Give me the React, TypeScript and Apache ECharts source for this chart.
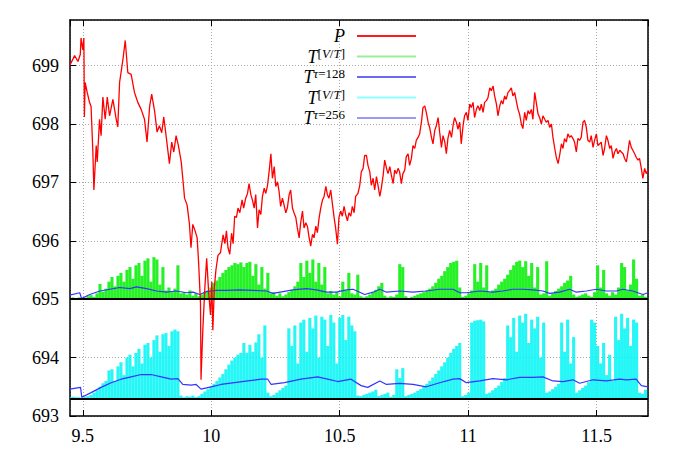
import React, { useEffect, useRef } from "react";
import * as echarts from "echarts";

// ---------- axis ranges ----------
const X_MIN = 9.45;
const X_MAX = 11.7;
const Y_MIN = 693;
const Y_MAX = 699.78;
const X_TICK_STEP = 0.5; // ticks 9.5, 10, 10.5, 11, 11.5 (chosen by the axis)
const Y_TICK_STEP = 1; // ticks 693 ... 699
const UPPER_BASE = 695; // baseline of the upper T^[V/T] impulses
const LOWER_BASE = 693.3; // baseline of the lower T^[V/T] impulses

// ---------- series names ----------
const NAME_P = "P";
const NAME_VT_UP = "T[V/T] a";
const NAME_TAU128 = "T tau=128";
const NAME_VT_LOW = "T[V/T] b";
const NAME_TAU256 = "T tau=256";

// ---------- P (price) ----------
const pPoints: [number, number][] = [
  [9.449,699.00],[9.468,699.17],[9.481,699.07],[9.490,699.19],[9.493,699.47],[9.500,699.27],[9.504,699.47],[9.506,698.12],[9.509,698.71],[9.517,698.54],
  [9.526,698.37],[9.532,698.30],[9.539,697.52],[9.543,696.87],[9.552,697.63],[9.556,697.35],[9.565,698.08],[9.571,697.80],[9.578,698.46],[9.587,698.08],
  [9.595,698.46],[9.604,698.14],[9.617,698.42],[9.630,698.08],[9.636,697.95],[9.643,698.71],[9.656,699.10],[9.665,699.43],[9.675,698.88],[9.688,698.85],
  [9.701,698.54],[9.714,698.37],[9.727,698.25],[9.740,698.08],[9.750,697.69],[9.760,698.30],[9.768,698.51],[9.779,698.23],[9.789,697.86],[9.798,697.97],
  [9.807,697.85],[9.815,698.12],[9.824,697.80],[9.837,697.32],[9.846,697.69],[9.854,697.52],[9.863,697.80],[9.872,697.63],[9.883,697.35],[9.889,697.07],
  [9.896,696.73],[9.906,696.61],[9.915,696.28],[9.921,695.88],[9.928,696.28],[9.937,696.17],[9.945,696.05],[9.951,695.60],[9.958,694.92],[9.960,693.62],
  [9.967,694.47],[9.975,695.20],[9.982,695.70],[9.990,695.10],[9.997,694.73],[10.002,695.30],[10.006,694.47],[10.012,695.20],[10.018,695.50],[10.026,695.75],
  [10.036,695.80],[10.046,696.10],[10.053,695.95],[10.059,696.17],[10.065,695.88],[10.072,695.77],[10.079,696.13],[10.085,695.95],[10.091,696.42],[10.098,696.40],
  [10.104,696.56],[10.111,696.48],[10.120,696.70],[10.126,696.56],[10.134,696.73],[10.141,696.81],[10.147,696.98],[10.154,696.79],[10.160,696.70],[10.167,696.56],
  [10.173,696.79],[10.180,696.22],[10.186,696.53],[10.193,696.45],[10.199,696.76],[10.206,696.90],[10.212,696.81],[10.219,696.95],[10.225,697.18],[10.232,697.49],
  [10.238,697.07],[10.245,697.27],[10.251,696.93],[10.258,697.01],[10.264,696.84],[10.270,696.59],[10.277,696.73],[10.283,696.62],[10.290,696.48],[10.296,696.56],
  [10.303,696.79],[10.309,696.87],[10.316,696.56],[10.322,696.48],[10.329,696.40],[10.335,696.22],[10.342,696.05],[10.348,696.31],[10.355,696.51],[10.361,696.22],
  [10.368,696.31],[10.374,696.25],[10.381,696.05],[10.387,695.91],[10.394,696.11],[10.400,696.05],[10.407,696.25],[10.413,696.14],[10.420,696.40],[10.426,696.56],
  [10.433,696.70],[10.439,696.76],[10.446,696.93],[10.452,696.79],[10.458,696.73],[10.465,696.87],[10.471,696.65],[10.478,696.40],[10.484,696.22],[10.491,695.94],
  [10.497,696.40],[10.504,696.51],[10.510,696.42],[10.517,696.59],[10.523,696.45],[10.530,696.34],[10.536,696.48],[10.543,696.42],[10.549,696.59],[10.556,696.48],
  [10.562,696.76],[10.571,696.81],[10.578,696.95],[10.584,697.18],[10.591,697.24],[10.597,697.46],[10.604,697.46],[10.610,697.29],[10.617,697.18],[10.623,696.95],
  [10.630,697.07],[10.636,696.87],[10.643,697.10],[10.649,696.95],[10.656,696.76],[10.662,696.90],[10.669,697.12],[10.675,697.38],[10.682,697.24],[10.688,697.15],
  [10.695,697.27],[10.701,697.12],[10.708,696.98],[10.714,697.21],[10.721,697.15],[10.727,697.24],[10.733,697.18],[10.740,696.98],[10.746,697.15],[10.753,697.21],
  [10.759,697.44],[10.766,697.49],[10.772,697.29],[10.779,697.41],[10.785,697.63],[10.792,697.58],[10.798,697.72],[10.805,697.77],[10.811,697.83],[10.818,698.03],
  [10.824,698.28],[10.831,698.31],[10.837,698.20],[10.844,698.03],[10.850,697.94],[10.857,697.77],[10.863,697.66],[10.870,697.89],[10.876,697.97],[10.883,698.11],
  [10.889,697.86],[10.896,697.60],[10.902,697.80],[10.909,697.69],[10.915,697.49],[10.921,697.75],[10.928,697.89],[10.935,697.77],[10.941,697.97],[10.947,698.11],
  [10.954,698.03],[10.960,697.91],[10.967,698.03],[10.973,697.66],[10.980,697.97],[10.986,698.14],[10.993,698.20],[10.999,698.06],[11.006,698.34],[11.012,698.28],
  [11.019,698.37],[11.025,698.11],[11.032,698.25],[11.038,698.31],[11.045,698.23],[11.051,698.34],[11.058,698.20],[11.064,698.37],[11.071,698.40],[11.077,698.45],
  [11.084,698.62],[11.090,698.57],[11.097,698.65],[11.103,698.48],[11.110,698.34],[11.116,698.14],[11.123,698.31],[11.129,698.40],[11.135,698.34],[11.142,698.48],
  [11.148,698.42],[11.155,698.54],[11.161,698.57],[11.168,698.62],[11.174,698.48],[11.181,698.54],[11.187,698.40],[11.194,698.25],[11.200,698.17],[11.207,698.00],
  [11.213,697.92],[11.220,698.20],[11.226,698.06],[11.233,698.23],[11.239,698.17],[11.246,698.25],[11.252,698.08],[11.259,698.54],[11.265,698.37],[11.272,698.17],
  [11.278,698.11],[11.285,698.00],[11.291,698.14],[11.298,698.08],[11.304,698.03],[11.311,698.06],[11.317,697.94],[11.324,698.00],[11.330,697.77],[11.337,697.58],
  [11.343,697.43],[11.350,697.32],[11.356,697.46],[11.363,697.66],[11.369,697.58],[11.375,697.75],[11.382,697.69],[11.388,697.83],[11.395,697.77],[11.401,697.80],
  [11.408,697.75],[11.414,697.69],[11.421,697.52],[11.427,697.75],[11.434,697.72],[11.440,697.77],[11.447,698.03],[11.453,698.06],[11.460,697.94],[11.466,697.72],
  [11.473,697.69],[11.479,697.80],[11.486,697.60],[11.492,697.72],[11.499,697.83],[11.505,697.63],[11.512,697.66],[11.518,697.69],[11.525,697.46],[11.531,697.58],
  [11.538,697.80],[11.544,697.72],[11.551,697.58],[11.557,697.63],[11.564,697.41],[11.570,697.52],[11.577,697.58],[11.583,697.49],[11.590,697.55],[11.596,697.52],
  [11.603,697.49],[11.609,697.41],[11.616,697.35],[11.622,697.52],[11.628,697.72],[11.635,697.60],[11.641,697.55],[11.648,697.49],[11.654,697.43],[11.661,697.38],
  [11.667,697.41],[11.674,697.24],[11.680,697.07],[11.687,697.24],[11.693,697.15],[11.700,697.21],
];

// ---------- T^{tau=128} (upper smooth line) ----------
const tau128Points: [number, number][] = [
  [9.449,695.07],[9.488,695.11],[9.495,695.01],[9.527,695.08],[9.566,695.14],[9.605,695.17],[9.644,695.20],[9.683,695.18],[9.709,695.21],[9.748,695.18],
  [9.787,695.14],[9.826,695.12],[9.865,695.14],[9.904,695.11],[9.929,695.12],[9.955,695.08],[9.981,695.13],[10.020,695.15],[10.059,695.15],[10.111,695.16],
  [10.163,695.15],[10.215,695.14],[10.240,695.10],[10.279,695.13],[10.318,695.16],[10.370,695.18],[10.409,695.16],[10.448,695.12],[10.487,695.12],[10.526,695.16],
  [10.552,695.17],[10.578,695.12],[10.597,695.08],[10.630,695.12],[10.656,695.17],[10.682,695.12],[10.733,695.14],[10.785,695.12],[10.837,695.14],[10.889,695.17],
  [10.941,695.17],[10.967,695.11],[10.993,695.11],[11.045,695.14],[11.096,695.12],[11.135,695.14],[11.174,695.17],[11.213,695.17],[11.252,695.16],[11.291,695.14],
  [11.317,695.10],[11.356,695.12],[11.395,695.17],[11.421,695.12],[11.460,695.14],[11.499,695.17],[11.538,695.14],[11.577,695.14],[11.602,695.17],[11.641,695.14],
  [11.680,695.08],[11.700,695.11],
];

// ---------- T^{tau=256} (lower smooth line) ----------
const tau256Points: [number, number][] = [
  [9.449,693.46],[9.491,693.49],[9.496,693.32],[9.532,693.40],[9.571,693.49],[9.610,693.57],[9.649,693.63],[9.688,693.67],[9.727,693.71],[9.766,693.71],
  [9.805,693.67],[9.844,693.63],[9.870,693.64],[9.889,693.54],[9.921,693.53],[9.941,693.54],[9.960,693.46],[9.999,693.50],[10.038,693.54],[10.090,693.57],
  [10.142,693.60],[10.194,693.63],[10.220,693.63],[10.233,693.54],[10.285,693.57],[10.349,693.63],[10.414,693.67],[10.453,693.63],[10.492,693.59],[10.544,693.63],
  [10.583,693.52],[10.609,693.49],[10.656,693.60],[10.682,693.54],[10.733,693.56],[10.785,693.54],[10.837,693.50],[10.889,693.57],[10.941,693.63],[10.967,693.64],
  [10.993,693.57],[11.045,693.60],[11.096,693.64],[11.149,693.62],[11.200,693.66],[11.252,693.66],[11.291,693.67],[11.330,693.60],[11.369,693.59],[11.408,693.62],
  [11.434,693.56],[11.486,693.62],[11.538,693.60],[11.589,693.63],[11.616,693.62],[11.654,693.63],[11.674,693.52],[11.700,693.50],
];

// ---------- T^[V/T] impulses (sampled on a regular grid) ----------
const IMPULSE_X0 = 9.45;
const IMPULSE_STEP = 0.01167;
const vtUpper = [
  695.02,695.03,695.02,695.03,695.01,695.02,695.05,695.07,695.04,695.10,
  695.26,695.13,695.18,695.30,695.38,695.22,695.40,695.45,695.30,695.50,
  695.55,695.35,695.58,695.62,695.40,695.66,695.70,695.30,695.72,695.68,
  695.25,695.55,695.15,695.20,695.12,695.18,695.58,695.10,695.12,695.08,
  695.15,695.06,695.10,695.05,695.08,695.12,695.15,695.20,695.28,695.32,
  695.38,695.45,695.50,695.55,695.58,695.62,695.60,695.63,695.55,695.62,
  695.64,695.40,695.60,695.25,695.55,695.18,695.45,695.10,695.12,695.06,
  695.10,695.05,695.08,695.12,695.16,695.22,695.30,695.62,695.38,695.66,
  695.45,695.68,695.30,695.62,695.25,695.55,695.10,695.14,695.08,695.12,
  695.05,695.30,695.15,695.45,695.10,695.08,695.42,695.05,695.03,695.05,
  695.08,695.12,695.16,695.22,695.28,695.06,695.03,695.05,695.04,695.08,
  695.60,695.55,695.05,695.02,695.04,695.06,695.08,695.10,695.12,695.15,
  695.18,695.22,695.28,695.35,695.40,695.48,695.55,695.62,695.64,695.66,
  695.20,695.04,695.06,695.10,695.15,695.60,695.30,695.62,695.20,695.58,
  695.12,695.15,695.18,695.25,695.30,695.35,695.42,695.50,695.58,695.64,
  695.66,695.55,695.65,695.40,695.62,695.20,695.55,695.08,695.10,695.65,
  695.06,695.10,695.14,695.18,695.22,695.28,695.32,695.40,695.08,695.04,
  695.06,695.08,695.10,695.06,695.04,695.12,695.58,695.20,695.50,695.10,
  695.06,695.12,695.08,695.20,695.62,695.55,695.15,695.25,695.68,695.35,
  695.06,695.08,695.04,
];
const vtLower = [
  693.32,693.33,693.32,693.32,693.31,693.33,693.34,693.36,693.40,693.44,
  693.50,693.56,693.60,693.78,693.80,693.60,693.85,693.92,693.70,694.00,
  694.05,693.85,694.08,694.15,693.90,694.22,694.25,694.00,694.30,694.38,
  694.10,694.40,694.42,694.20,694.45,694.48,694.45,693.35,693.32,693.34,
  693.33,693.35,693.32,693.34,693.38,693.42,693.46,693.50,693.55,693.60,
  693.66,693.72,693.80,693.88,693.95,694.00,694.05,694.08,694.25,694.08,
  694.22,694.10,694.26,694.40,694.00,694.55,693.40,693.34,693.36,693.40,
  693.44,693.48,693.52,694.50,694.20,694.55,693.90,694.60,694.65,694.10,
  694.68,694.50,694.72,694.00,694.70,694.65,694.20,694.73,694.60,693.90,
  694.68,694.73,694.30,694.70,694.55,694.45,693.35,693.34,693.36,693.38,
  693.40,693.42,693.45,693.34,693.36,693.38,693.40,693.33,693.36,693.80,
  693.65,693.82,693.34,693.36,693.38,693.40,693.43,693.46,693.50,693.55,
  693.60,693.66,693.72,693.78,693.85,693.92,694.00,694.08,694.15,694.20,
  694.25,693.34,693.36,693.40,694.60,694.63,694.64,694.65,694.62,693.38,
  693.40,693.44,693.48,693.52,693.58,693.65,694.55,694.35,694.68,694.10,
  694.72,694.60,694.75,694.25,694.65,694.50,694.70,694.00,694.60,693.40,
  693.42,693.46,693.50,693.55,694.60,694.10,694.65,693.90,694.35,693.40,
  693.44,693.48,693.52,693.58,694.65,694.60,694.20,693.90,694.25,693.70,
  694.05,693.60,694.70,694.30,694.75,694.50,694.68,694.20,694.65,694.60,
  693.40,693.38,693.45,
];

const FONT = "Times New Roman";

const legendText: Record<string, string> = {
  [NAME_P]: "{it|P}{gap| }",
  [NAME_VT_UP]: "{it|T}{sup|[}{supi|V}{sup|/}{supi|T}{sup|]}{gap| }",
  [NAME_TAU128]: "{it|T}{supi|τ}{sup|=128}{gap| }",
  [NAME_VT_LOW]: "{it|T}{sup|[}{supi|V}{sup|/}{supi|T}{sup|]}{gap| }",
  [NAME_TAU256]: "{it|T}{supi|τ}{sup|=256}{gap| }",
};

function impulseSeries(name: string, values: number[], base: number, color: string) {
  return {
    type: "custom",
    name,
    silent: true,
    clip: true,
    data: values.map((v, i) => [IMPULSE_X0 + i * IMPULSE_STEP, v]),
    encode: { x: 0, y: 1 },
    renderItem: (_params: any, api: any) => {
      const x = api.value(0);
      const v = api.value(1);
      const a = api.coord([x, base]);
      const b = api.coord([x, v]);
      return {
        type: "line",
        shape: { x1: a[0], y1: a[1], x2: b[0], y2: b[1] },
        style: { stroke: color, lineWidth: 3.1, opacity: 0.85 },
      };
    },
  };
}

export default function App() {
  const ref = useRef<HTMLDivElement>(null);

  useEffect(() => {
    if (!ref.current) return;
    const chart = echarts.init(ref.current, undefined, { renderer: "svg" });

    const axisLine = { show: true, onZero: false, lineStyle: { color: "#000", width: 1.5 } };
    const tick = { show: true, inside: true, length: 6, lineStyle: { color: "#000", width: 1 } };
    const gridLine = { show: true, lineStyle: { color: "#a8a8a8", width: 1, type: [1, 2] } };
    const tickRich = { n: { fontFamily: FONT, fontSize: 18, color: "#000", fontStyle: "normal" } };
    const label = (showMin: boolean) => ({
      show: true,
      color: "#000",
      fontFamily: FONT,
      fontSize: 18,
      margin: 11,
      showMinLabel: showMin,
      showMaxLabel: false,
      formatter: (v: number) => `{n|${v}}`,
      rich: tickRich,
    });
    const xBase = { type: "value", min: X_MIN, max: X_MAX, minInterval: X_TICK_STEP, maxInterval: X_TICK_STEP };
    const yBase = { type: "value", min: Y_MIN, max: Y_MAX, minInterval: Y_TICK_STEP, maxInterval: Y_TICK_STEP };

    chart.setOption({
      animation: false,
      backgroundColor: "#fff",
      textStyle: { fontFamily: FONT },
      grid: { left: 70, right: 33, top: 20, bottom: 37, containLabel: false },
      xAxis: [
        { ...xBase, position: "bottom", axisLine, axisTick: tick, axisLabel: label(false), splitLine: gridLine },
        { ...xBase, position: "top", axisLine, axisTick: tick, axisLabel: { show: false }, splitLine: { show: false } },
      ],
      yAxis: [
        { ...yBase, position: "left", axisLine, axisTick: tick, axisLabel: label(true), splitLine: gridLine },
        { ...yBase, position: "right", axisLine, axisTick: tick, axisLabel: { show: false }, splitLine: { show: false } },
      ],
      legend: {
        orient: "vertical",
        align: "right",
        right: 265,
        top: 27,
        padding: 0,
        itemGap: 1.5,
        itemWidth: 59,
        itemHeight: 2,
        selectedMode: false,
        data: [
          { name: NAME_P, icon: "rect", itemStyle: { color: "#ff1a1a" } },
          { name: NAME_VT_UP, icon: "rect", itemStyle: { color: "#99ee99" } },
          { name: NAME_TAU128, icon: "rect", itemStyle: { color: "#6a6aee" } },
          { name: NAME_VT_LOW, icon: "rect", itemStyle: { color: "#8cffff" } },
          { name: NAME_TAU256, icon: "rect", itemStyle: { color: "#9a9af2" } },
        ],
        formatter: (name: string) => legendText[name] ?? name,
        textStyle: {
          fontFamily: FONT,
          color: "#000",
          rich: {
            it: { fontFamily: FONT, fontStyle: "italic", fontSize: 18, lineHeight: 20, color: "#000" },
            sup: { fontFamily: FONT, fontSize: 13, lineHeight: 10, verticalAlign: "top", color: "#000" },
            supi: { fontFamily: FONT, fontStyle: "italic", fontSize: 13, lineHeight: 10, verticalAlign: "top", color: "#000" },
            gap: { fontFamily: FONT, width: 7, fontSize: 12, lineHeight: 20 },
          },
        },
      },
      series: [
        impulseSeries(NAME_VT_UP, vtUpper, UPPER_BASE, "#00ee00"),
        {
          ...impulseSeries(NAME_VT_LOW, vtLower, LOWER_BASE, "#00f4f4"),
          markLine: {
            silent: true,
            symbol: ["none", "none"],
            label: { show: false },
            lineStyle: { color: "#000", width: 2, type: "solid" },
            data: [{ yAxis: UPPER_BASE }, { yAxis: LOWER_BASE }],
          },
        },
        {
          type: "line", name: NAME_TAU128, data: tau128Points, showSymbol: false, symbol: "none",
          lineStyle: { color: "#3434ff", width: 1.2 }, itemStyle: { color: "#3434ff" }, z: 3,
        },
        {
          type: "line", name: NAME_TAU256, data: tau256Points, showSymbol: false, symbol: "none",
          lineStyle: { color: "#3434ff", width: 1.2 }, itemStyle: { color: "#3434ff" }, z: 3,
        },
        {
          type: "line", name: NAME_P, data: pPoints, showSymbol: false, symbol: "none",
          lineStyle: { color: "#ff0000", width: 1.3 }, itemStyle: { color: "#ff0000" }, z: 4,
        },
      ],
    });

    return () => chart.dispose();
  }, []);

  return (
    <div
      ref={ref}
      style={{ position: "absolute", left: 0, top: 0, width: 681, height: 453, background: "#fff" }}
    />
  );
}
